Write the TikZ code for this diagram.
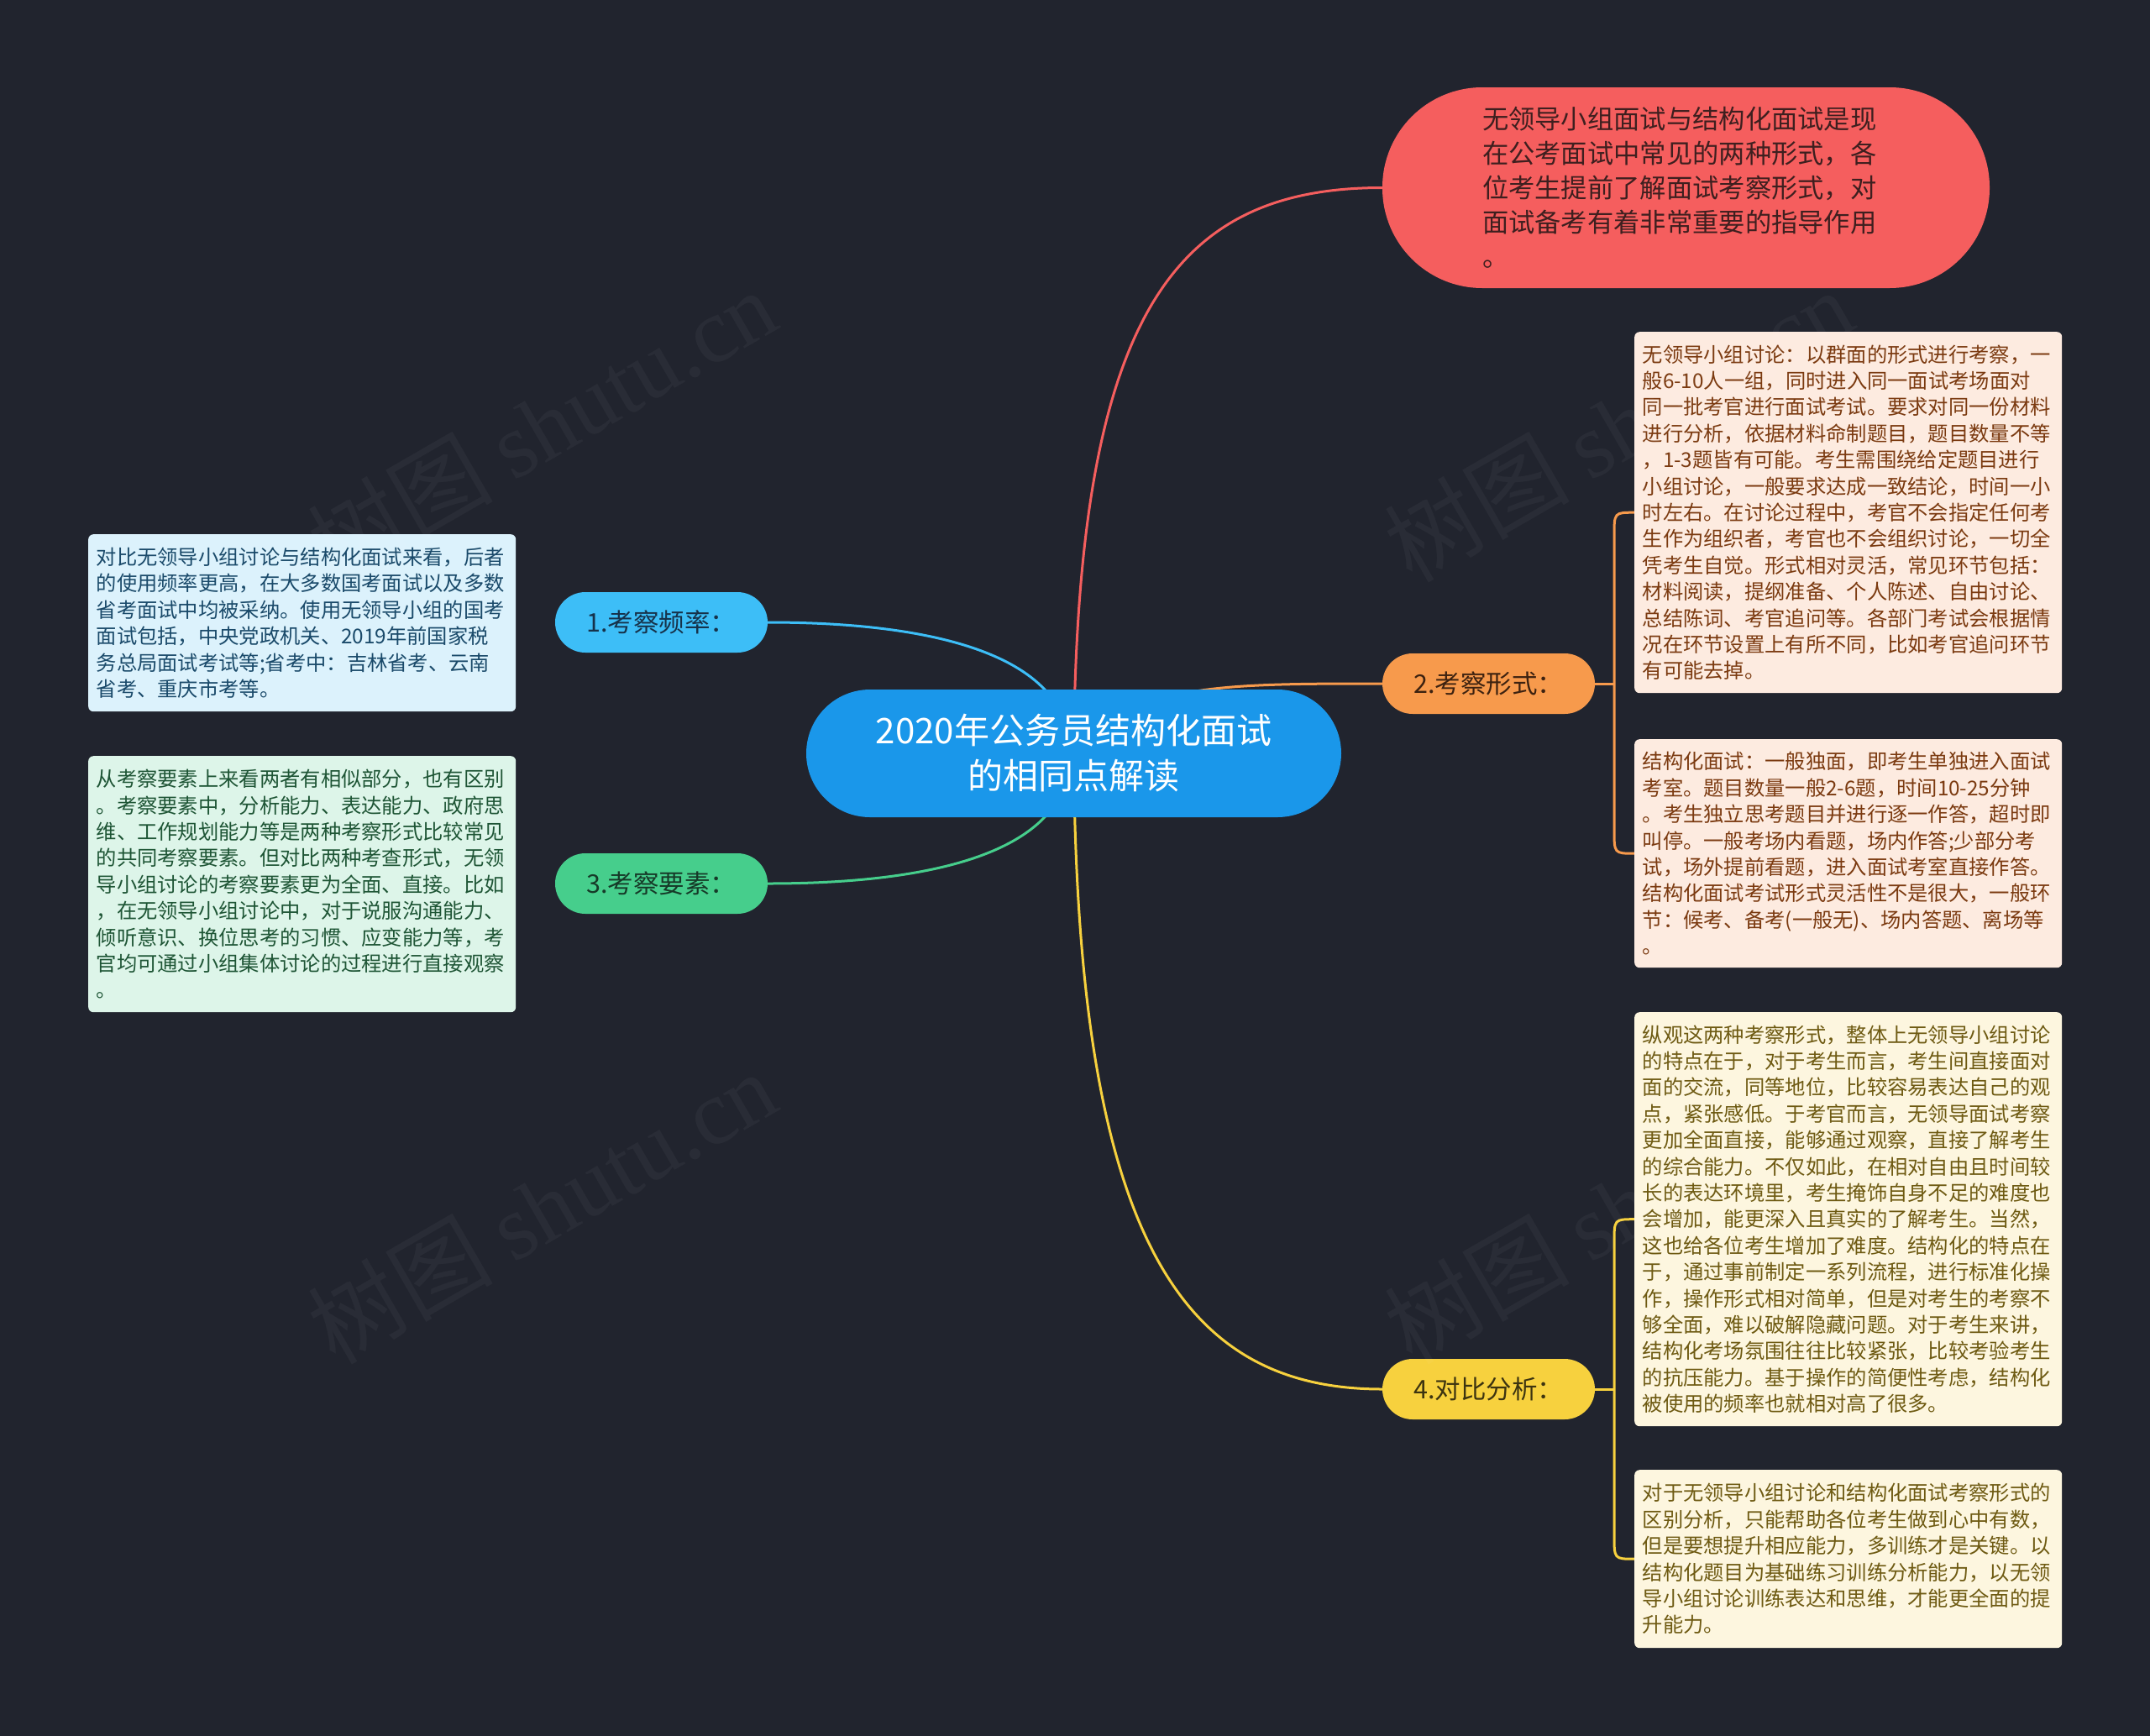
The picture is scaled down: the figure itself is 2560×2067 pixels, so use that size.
\documentclass[tikz,border=0pt]{standalone}
\usepackage{fontspec}
\setmainfont{Noto Sans CJK SC}
\newfontfamily\wmlatin{Liberation Serif}
\usetikzlibrary{calc}
\pgfdeclarelayer{bgfill}
\pgfdeclarelayer{bgconn}
\pgfdeclarelayer{wmlayer}
\pgfsetlayers{bgfill,bgconn,main,wmlayer}
\definecolor{bg}{HTML}{21242E}
\definecolor{cblue}{HTML}{1A97EA}
\definecolor{rednode}{HTML}{F55E5E}
\definecolor{redtext}{HTML}{3E1F1F}
\definecolor{orgnode}{HTML}{F79A4C}
\definecolor{orgtext}{HTML}{3D2210}
\definecolor{ylwnode}{HTML}{F7D13E}
\definecolor{ylwtext}{HTML}{3D3410}
\definecolor{blunode}{HTML}{3DBEF7}
\definecolor{blutext}{HTML}{16324A}
\definecolor{grnnode}{HTML}{46CE8C}
\definecolor{grntext}{HTML}{163A28}
\definecolor{orgleaf}{HTML}{FDEBE0}
\definecolor{orgleaftext}{HTML}{7B3A10}
\definecolor{ylwleaf}{HTML}{FDF6DF}
\definecolor{ylwleaftext}{HTML}{6E5A12}
\definecolor{bluleaf}{HTML}{DCF2FC}
\definecolor{bluleaftext}{HTML}{1A4A6A}
\definecolor{grnleaf}{HTML}{DDF5E9}
\definecolor{grnleaftext}{HTML}{1E5535}
\tikzset{
  conn/.style={line width=3pt},
  centralbox/.style={rectangle, rounded corners=76pt, fill=cblue, text=white,
    minimum width=637pt, minimum height=152pt, inner sep=0pt, align=center,
    font=\fontsize{42}{54}\selectfont},
  branchbox/.style={rectangle, rounded corners=36pt, minimum width=253pt,
    minimum height=72pt, inner sep=0pt, align=center,
    font=\fontsize{30.5}{34}\selectfont},
  leafbox/.style={rectangle, rounded corners=6pt, anchor=north west,
    minimum width=509pt, text width=490pt, inner xsep=9.5pt, inner ysep=0pt,
    align=left, font=\fontsize{24.3}{31.4}\selectfont},
  wmark/.style={text=white, opacity=0.04, rotate=30,
    font=\fontsize{110}{110}\selectfont}
}
\begin{document}
\begin{tikzpicture}[x=1pt,y=-1pt]
\begin{pgfonlayer}{bgfill}
\fill[bg] (0,0) rectangle (2560,2067);
\end{pgfonlayer}
\useasboundingbox (0,0) rectangle (2560,2067);

% main nodes
\node[centralbox] (c) at (1278.5,897) {2020年公务员结构化面试\\的相同点解读};

\node[rectangle, rounded corners=119pt, fill=rednode, text=redtext,
  minimum width=723pt, minimum height=239pt, inner sep=0pt,
  text width=485pt, align=left, font=\fontsize{31.3}{41}\selectfont]
  (r) at (2007.5,223.5)
  {无领导小组面试与结构化面试是现\\在公考面试中常见的两种形式，各\\位考生提前了解面试考察形式，对\\面试备考有着非常重要的指导作用\\。};

\node[branchbox, fill=blunode, text=blutext] (b1) at (787.5,741) {1.考察频率：};
\node[branchbox, fill=orgnode, text=orgtext] (b2) at (1772.5,814) {2.考察形式：};
\node[branchbox, fill=grnnode, text=grntext] (b3) at (787.5,1052) {3.考察要素：};
\node[branchbox, fill=ylwnode, text=ylwtext] (b4) at (1772.5,1654) {4.对比分析：};

% leaves
\node[leafbox, fill=bluleaf, text=bluleaftext, minimum height=211pt] (l1) at (105,636)
{对比无领导小组讨论与结构化面试来看，后者\\的使用频率更高，在大多数国考面试以及多数\\省考面试中均被采纳。使用无领导小组的国考\\面试包括，中央党政机关、2019年前国家税\\务总局面试考试等;省考中：吉林省考、云南\\省考、重庆市考等。};

\node[leafbox, fill=grnleaf, text=grnleaftext, minimum height=305pt] (l3) at (105,900)
{从考察要素上来看两者有相似部分，也有区别\\。考察要素中，分析能力、表达能力、政府思\\维、工作规划能力等是两种考察形式比较常见\\的共同考察要素。但对比两种考查形式，无领\\导小组讨论的考察要素更为全面、直接。比如\\，在无领导小组讨论中，对于说服沟通能力、\\倾听意识、换位思考的习惯、应变能力等，考\\官均可通过小组集体讨论的过程进行直接观察\\。};

\node[leafbox, fill=orgleaf, text=orgleaftext, minimum height=430pt] (l2a) at (1946,395)
{无领导小组讨论：以群面的形式进行考察，一\\般6-10人一组，同时进入同一面试考场面对\\同一批考官进行面试考试。要求对同一份材料\\进行分析，依据材料命制题目，题目数量不等\\，1-3题皆有可能。考生需围绕给定题目进行\\小组讨论，一般要求达成一致结论，时间一小\\时左右。在讨论过程中，考官不会指定任何考\\生作为组织者，考官也不会组织讨论，一切全\\凭考生自觉。形式相对灵活，常见环节包括：\\材料阅读，提纲准备、个人陈述、自由讨论、\\总结陈词、考官追问等。各部门考试会根据情\\况在环节设置上有所不同，比如考官追问环节\\有可能去掉。};

\node[leafbox, fill=orgleaf, text=orgleaftext, minimum height=272pt] (l2b) at (1946,880)
{结构化面试：一般独面，即考生单独进入面试\\考室。题目数量一般2-6题，时间10-25分钟\\。考生独立思考题目并进行逐一作答，超时即\\叫停。一般考场内看题，场内作答;少部分考\\试，场外提前看题，进入面试考室直接作答。\\结构化面试考试形式灵活性不是很大，一般环\\节：候考、备考(一般无)、场内答题、离场等\\。};

\node[leafbox, fill=ylwleaf, text=ylwleaftext, minimum height=493pt] (l4a) at (1946,1205)
{纵观这两种考察形式，整体上无领导小组讨论\\的特点在于，对于考生而言，考生间直接面对\\面的交流，同等地位，比较容易表达自己的观\\点，紧张感低。于考官而言，无领导面试考察\\更加全面直接，能够通过观察，直接了解考生\\的综合能力。不仅如此，在相对自由且时间较\\长的表达环境里，考生掩饰自身不足的难度也\\会增加，能更深入且真实的了解考生。当然，\\这也给各位考生增加了难度。结构化的特点在\\于，通过事前制定一系列流程，进行标准化操\\作，操作形式相对简单，但是对考生的考察不\\够全面，难以破解隐藏问题。对于考生来讲，\\结构化考场氛围往往比较紧张，比较考验考生\\的抗压能力。基于操作的简便性考虑，结构化\\被使用的频率也就相对高了很多。};

\node[leafbox, fill=ylwleaf, text=ylwleaftext, minimum height=212pt] (l4b) at (1946,1750)
{对于无领导小组讨论和结构化面试考察形式的\\区别分析，只能帮助各位考生做到心中有数，\\但是要想提升相应能力，多训练才是关键。以\\结构化题目为基础练习训练分析能力，以无领\\导小组讨论训练表达和思维，才能更全面的提\\升能力。};

% junction points
\coordinate (j2) at (1922,814);
\coordinate (j4) at (1922,1654);

% connectors (behind nodes)
\begin{pgfonlayer}{bgconn}
  \draw[conn, rednode] (c.center) .. controls (1282,370) and (1400,223.5) .. (r.west);
  \draw[conn, orgnode] (c.center) .. controls (1350,814) and (1450,814) .. (b2.west);
  \draw[conn, ylwnode] (c.center) .. controls (1282,1480) and (1410,1654) .. (b4.west);
  \draw[conn, blunode] ($(c.center)+(-4,0)$) .. controls (1274,765) and (1070,741) .. (b1.east);
  \draw[conn, grnnode] ($(c.center)+(-4,0)$) .. controls (1274,1029) and (1070,1052) .. (b3.east);
  % brackets
  \draw[conn, orgnode] (b2.east) -- (j2);
  \draw[conn, orgnode] (l2a.west) .. controls (l2a.west -| j2) .. ($(l2a.west -| j2)+(0,28)$)
     -- ($(l2b.west -| j2)+(0,-28)$) .. controls (l2b.west -| j2) .. (l2b.west);
  \draw[conn, ylwnode] (b4.east) -- (j4);
  \draw[conn, ylwnode] (l4a.west) .. controls (l4a.west -| j4) .. ($(l4a.west -| j4)+(0,28)$)
     -- ($(l4b.west -| j4)+(0,-28)$) .. controls (l4b.west -| j4) .. (l4b.west);
\end{pgfonlayer}

% watermarks
\begin{pgfonlayer}{wmlayer}
  \node[wmark] (w1) at (645,506) {树图 {\wmlatin shutu.cn}};
  \node[wmark] (w2) at (645,1437) {树图 {\wmlatin shutu.cn}};
  \node[wmark] (w3) at (1927,506) {树图 {\wmlatin shutu.cn}};
  \node[wmark] (w4) at (1927,1437) {树图 {\wmlatin shutu.cn}};
\end{pgfonlayer}
\end{tikzpicture}
\end{document}
